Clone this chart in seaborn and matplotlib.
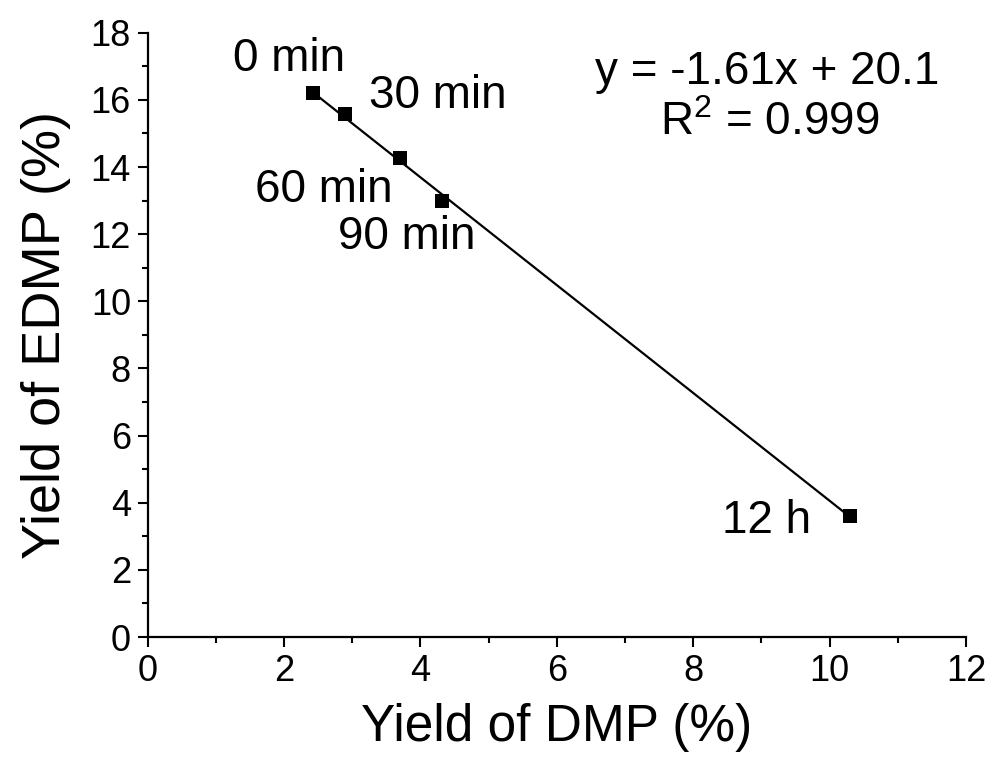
import numpy as np
import pandas as pd
import seaborn as sns
import matplotlib
matplotlib.use("Agg")
import matplotlib.pyplot as plt
from matplotlib.ticker import MultipleLocator

# Data
labels = ["0 min", "30 min", "60 min", "90 min", "12 h"]
dmp = [2.42, 2.89, 3.70, 4.31, 10.30]
edmp = [16.2, 15.58, 14.28, 13.0, 3.6]
label_x = [2.07, 4.25, 2.58, 3.80, 9.07]
label_y = [17.22, 16.12, 13.32, 11.92, 3.46]
equation = "y = -1.61x + 20.1"
r2_text = "R$^2$ = 0.999"

df = pd.DataFrame({"DMP": dmp, "EDMP": edmp})

sns.set_style("ticks")
plt.rcParams['font.family'] = ['Liberation Sans', 'DejaVu Sans']
plt.rcParams['mathtext.fontset'] = 'custom'
plt.rcParams['mathtext.rm'] = 'Liberation Sans'
for k in ["text.color", "axes.labelcolor", "xtick.color", "ytick.color", "axes.edgecolor"]:
    plt.rcParams[k] = "black"

fig = plt.figure(figsize=(9.97, 7.62), dpi=100)
ax = fig.add_axes([0.148, 0.164, 0.821, 0.793])

sns.regplot(data=df, x="DMP", y="EDMP", ax=ax, ci=None, truncate=True,
            scatter=False, line_kws=dict(color="black", lw=1.6))
sns.scatterplot(data=df, x="DMP", y="EDMP", ax=ax, marker="s", s=110,
                color="black", edgecolor="black", linewidth=0, zorder=5)

for t, x, y in zip(labels, label_x, label_y):
    ax.text(x, y, t, ha="center", va="center", fontsize=33, color="black")

ax.text(9.09, 16.84, equation, ha="center", va="center", fontsize=33, color="black")
ax.text(9.12, 15.32, r2_text, ha="center", va="center", fontsize=33, color="black")

ax.set_xlim(0, 12)
ax.set_ylim(0, 18)
ax.xaxis.set_major_locator(MultipleLocator(2))
ax.xaxis.set_minor_locator(MultipleLocator(1))
ax.yaxis.set_major_locator(MultipleLocator(2))
ax.yaxis.set_minor_locator(MultipleLocator(1))
ax.tick_params(which="major", length=7, width=1.5, labelsize=26, direction="out",
               color="black", labelcolor="black", pad=5)
ax.tick_params(which="minor", length=4, width=1.5, direction="out", color="black")

for side in ["top", "right"]:
    ax.spines[side].set_visible(False)
for side in ["left", "bottom"]:
    ax.spines[side].set_linewidth(1.6)
    ax.spines[side].set_color("black")

ax.set_xlabel("Yield of DMP (%)", fontsize=37, labelpad=10, color="black")
ax.set_ylabel("Yield of EDMP (%)", fontsize=39, labelpad=14, color="black")

fig.savefig("out.png", dpi=100)
